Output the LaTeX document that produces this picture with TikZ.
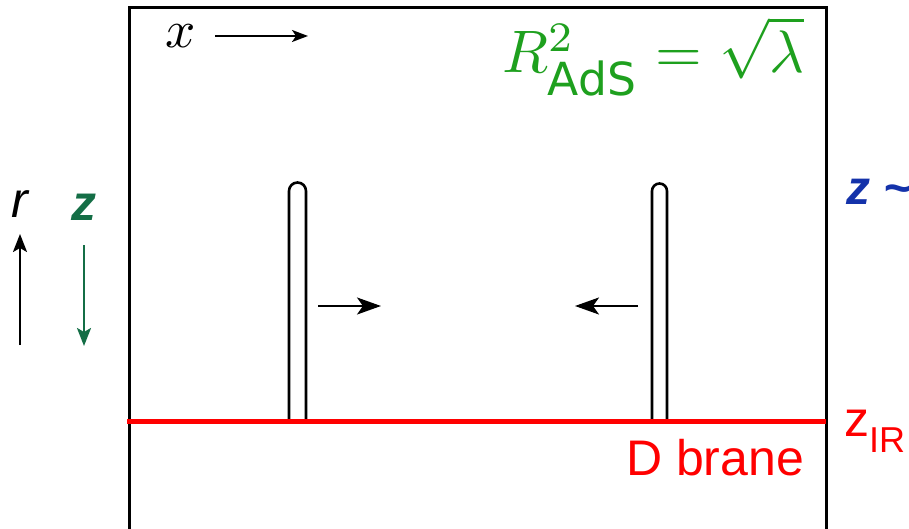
\documentclass[tikz,border=0pt]{standalone}
\usepackage{fontspec}
\setsansfont{Liberation Sans}
\newfontfamily\vera{DejaVu Sans}
\usetikzlibrary{arrows.meta}
\definecolor{brgreen}{RGB}{30,160,30}
\definecolor{dkgreen}{RGB}{20,110,70}
\definecolor{zblue}{RGB}{20,50,170}
\definecolor{brred}{RGB}{255,0,0}
\tikzset{
  frame/.style={line width=3pt, black},
  branewall/.style={line width=2.6pt, black},
  pusharrow/.style={line width=2.4pt, -{Stealth[length=24pt,width=17pt,inset=6pt]}},
  axisarrow/.style={line width=2.4pt, -{Stealth[length=18pt,width=14pt,inset=4pt]}},
  lbl/.style={inner sep=0pt, anchor=base west},
}
\begin{document}
\begin{tikzpicture}[x=1pt,y=-1pt]
\clip (0,0) rectangle (909,529);
\fill[white] (0,0) rectangle (909,529);
% frame
\coordinate (fbl) at (129,540);
\coordinate (ftl) at (129,8);
\coordinate (ftr) at (826,8);
\coordinate (fbr) at (826,540);
\draw[frame] (fbl) -- (ftl) -- (ftr) -- (fbr);
% x arrow
\node[lbl, scale=5.3] (xlab) at (164,48) {$x$};
\coordinate (xa1) at (215,36);
\coordinate (xa2) at (308,36);
\draw[line width=2pt, -{Stealth[length=16pt,width=12pt,inset=4pt]}] (xa1) -- (xa2);
% formula
\node[lbl, text=brgreen, scale=6.0] (form) at (501,73) {$R^2_{\mbox{\fontsize{7.6}{8}\selectfont\vera AdS}} = \sqrt{\lambda}$};
% r and z axes
\node[lbl] (rlab) at (11,218) {\fontsize{50}{50}\selectfont\sffamily\itshape r};
\node[lbl, text=dkgreen] (zlab) at (71,221) {\fontsize{50}{50}\selectfont\sffamily\bfseries\itshape z};
\coordinate (ra1) at (20,345);
\coordinate (ra2) at (20,234);
\draw[axisarrow] (ra1) -- (ra2);
\coordinate (za1) at (84,245);
\coordinate (za2) at (84,346);
\draw[axisarrow, dkgreen] (za1) -- (za2);
% blue z ~
\node[lbl, text=zblue] (zuv) at (846,205) {\fontsize{48}{48}\selectfont\sffamily\bfseries\itshape z \~{}};
% branes
\coordinate (b1l) at (289,421);
\coordinate (b1r) at (306,421);
\draw[branewall] (b1l) -- (289,191) arc[start angle=180,end angle=360,radius=8.5] -- (b1r);
\coordinate (b2l) at (652,421);
\coordinate (b2r) at (667,421);
\draw[branewall] (b2l) -- (652,191) arc[start angle=180,end angle=360,radius=7.5] -- (b2r);
% push arrows
\coordinate (p1a) at (318,306);
\coordinate (p1b) at (381,306);
\draw[pusharrow] (p1a) -- (p1b);
\coordinate (p2a) at (638,306);
\coordinate (p2b) at (575,306);
\draw[pusharrow] (p2a) -- (p2b);
% D brane line
\coordinate (dl) at (127,421);
\coordinate (dr) at (826,421);
\draw[line width=5pt, brred] (dl) -- (dr);
\node[lbl, text=brred] (dlab) at (626,475) {\fontsize{50}{50}\selectfont\sffamily D brane};
\node[lbl, text=brred] (zir) at (844,436) {\fontsize{50}{50}\selectfont\sffamily z\textsubscript{\fontsize{36}{36}\selectfont IR}};
\end{tikzpicture}
\end{document}
